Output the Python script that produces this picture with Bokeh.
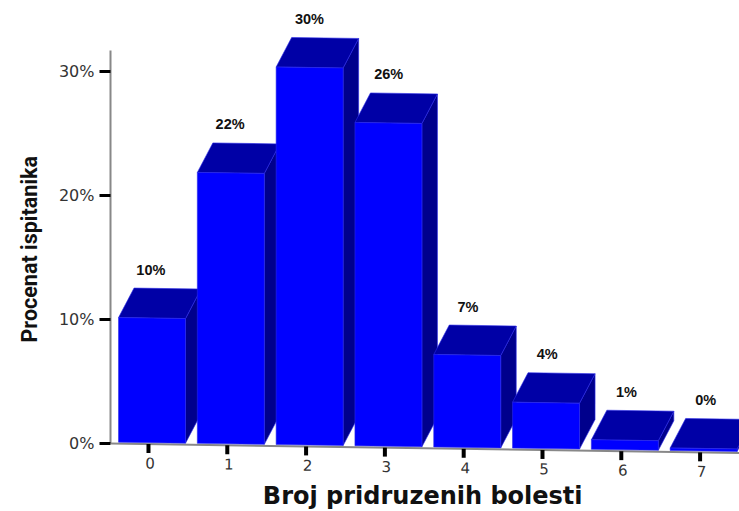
from bokeh.plotting import figure
from bokeh.models import ColumnDataSource, FixedTicker, Range1d, PrintfTickFormatter, Title
from bokeh.core.properties import value
from bokeh.embed import file_html
from bokeh.resources import INLINE

categories = ["0", "1", "2", "3", "4", "5", "6", "7"]
percent = [10.05, 21.85, 30.45, 26.07, 7.45, 3.7, 0.77, 0.2]
value_labels = ["10%", "22%", "30%", "26%", "7%", "4%", "1%", "0%"]
y_ticks = [0, 10, 20, 30]
x_title = "Broj pridruzenih bolesti"
y_title = "Procenat ispitanika"

# geometry of the oblique projection, in data units
PX_X = 78.8      # px per category
PX_Y = 12.4      # px per percent
TILT = 0.015 * PX_X / PX_Y
X0 = -0.482
LEFT, WIDTH = -0.38, 0.85
DX, DY = 15.5 / PX_X, 29.5 / PX_Y
LIFT = 1.5 / PX_Y


def ty(x, v):
    return v - TILT * (x - X0)


xs, ys, colors = [], [], []
for i, v in enumerate(percent):
    l, r = i + LEFT, i + LEFT + WIDTH
    b, t = LIFT, LIFT + v
    # side
    xs.append([r, r + DX, r + DX, r])
    ys.append([ty(r, b), ty(r, b) + DY, ty(r, t) + DY, ty(r, t)])
    colors.append("#00008c")
    # top
    xs.append([l, l + DX, r + DX, r])
    ys.append([ty(l, t), ty(l, t) + DY, ty(r, t) + DY, ty(r, t)])
    colors.append("#0000a6")
    # front
    xs.append([l, r, r, l])
    ys.append([ty(l, b), ty(r, b), ty(r, t), ty(l, t)])
    colors.append("#0000ff")

p = figure(width=739, height=511, output_backend="svg", toolbar_location=None,
           x_range=Range1d(X0, 7.5), y_range=Range1d(-5.48, 35.73),
           min_border_left=110, min_border_right=0, min_border_top=0, min_border_bottom=0,
           margin=(0, 0, 0, 0), outline_line_color=None, x_axis_location=None)
p.grid.visible = False

yax = p.yaxis[0]
yax.ticker = FixedTicker(ticks=y_ticks)
yax.formatter = PrintfTickFormatter(format="%d%%")
yax.bounds = (0, 31.7)
yax.axis_line_color = "#888888"
yax.axis_line_width = 2
yax.major_tick_in = 0
yax.major_tick_out = 11
yax.major_tick_line_width = 3
yax.major_tick_line_color = "black"
yax.minor_tick_line_color = None
yax.major_label_standoff = 5
yax.major_label_text_font = "DejaVu Sans"
yax.major_label_text_font_size = "16px"
yax.major_label_text_color = "#333333"

p.add_layout(Title(text=y_title, align="left", offset=169, standoff=28,
                   text_font="Roboto", text_font_style="bold",
                   text_font_size="21.5px", text_color="#111111"), "left")

# tilted x axis line and its ticks
p.segment(x0=[X0], y0=[ty(X0, 0)], x1=[7.5], y1=[ty(7.5, 0)], line_color="#888888", line_width=2)
cats = [float(c) for c in categories]
p.segment(x0=cats, y0=[ty(c, 0) for c in cats], x1=cats, y1=[ty(c, 0) - 0.72 for c in cats],
          line_color="black", line_width=4)

src = ColumnDataSource(dict(xs=xs, ys=ys, c=colors))
p.patches("xs", "ys", source=src, fill_color="c", line_color="#2828e8", line_width=0.6)

# tick labels along the tilted axis
p.text(x=[c + 0.02 for c in cats], y=[ty(c, 0) - 1.48 for c in cats], text=categories,
       text_font=value("DejaVu Sans"), text_font_size="15px", text_color="#333333",
       text_align="center", text_baseline="middle", angle=-0.015)

# value labels above each bar
lab_x = [i + LEFT + WIDTH / 2 - 0.015 + 0.006 * i for i in range(len(percent))]
lab_y = [ty(x, LIFT + v) + DY + 19 / PX_Y for x, v in zip(lab_x, percent)]
p.text(x=lab_x, y=lab_y, text=value_labels,
       text_font=value("Liberation Sans"), text_font_style="bold", text_font_size="14.5px",
       text_color="#111111", text_align="center", text_baseline="middle")

# x axis title
p.text(x=[3.48], y=[-4.27], text=[x_title],
       text_font=value("DejaVu Sans"), text_font_style="bold", text_font_size="24px",
       text_color="#111111", text_align="center", text_baseline="middle")

open("out.html", "w").write(file_html(p, INLINE))
